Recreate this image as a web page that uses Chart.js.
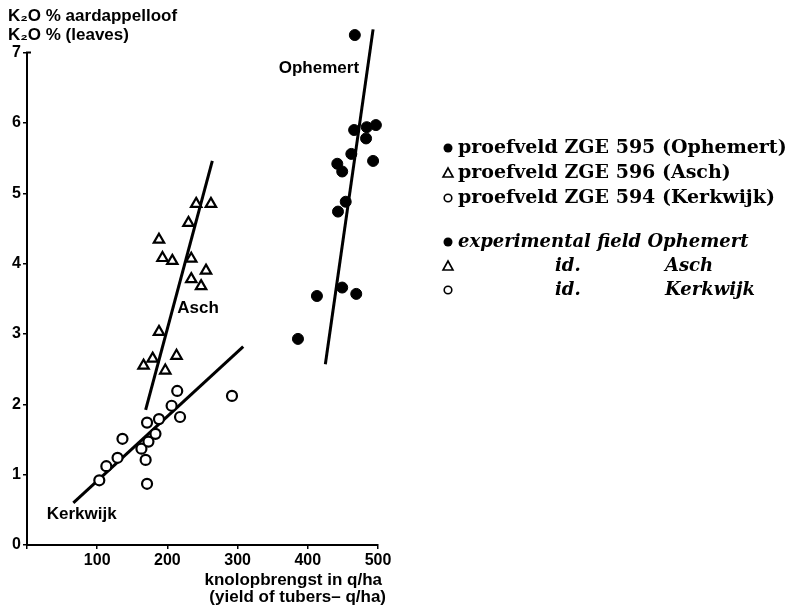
<!DOCTYPE html>
<html>
<head>
<meta charset="utf-8">
<script src="https://cdn.jsdelivr.net/npm/chart.js@4.4.0/dist/chart.umd.min.js"></script>
<style>
  body { margin: 0; background: #fff; }
  #wrap { position: relative; width: 794px; height: 608px; }
</style>
</head>
<body>
<div id="wrap"><canvas id="chart" width="794" height="608"></canvas></div>
<script>
// yield of tubers (q/ha) vs K2O % in leaves, per experimental field
const ophemertX = [467, 466, 484, 497, 483, 462, 493, 442, 449, 454, 443, 413, 449, 469, 386];
const ophemertY = [7.25, 5.90, 5.94, 5.97, 5.78, 5.56, 5.46, 5.42, 5.31, 4.88, 4.74, 3.54, 3.66, 3.57, 2.93];
const aschX = [241, 262, 230, 188, 193, 207, 234, 255, 234, 248, 188, 179, 166, 213, 197];
const aschY = [4.85, 4.85, 4.58, 4.34, 4.08, 4.04, 4.07, 3.90, 3.78, 3.68, 3.03, 2.65, 2.55, 2.69, 2.48];
const kerkwijkX = [103, 113, 129, 136, 163, 169, 171, 171, 173, 183, 188, 206, 214, 218, 292];
const kerkwijkY = [0.92, 1.12, 1.24, 1.51, 1.37, 1.21, 0.87, 1.74, 1.47, 1.58, 1.79, 1.98, 2.19, 1.82, 2.12];

// regression lines, two end points each
const ophemertLineX = [425, 493];
const ophemertLineY = [2.57, 7.33];
const aschLineX = [169, 264];
const aschLineY = [1.92, 5.46];
const kerkwijkLineX = [66, 308];
const kerkwijkLineY = [0.60, 2.82];

const xTicks = [0, 100, 200, 300, 400, 500];
const yTicks = [0, 1, 2, 3, 4, 5, 6, 7];

const legendDutch = ['proefveld ZGE 595 (Ophemert)', 'proefveld ZGE 596 (Asch)', 'proefveld ZGE 594 (Kerkwijk)'];
const legendEnglish = [['experimental field Ophemert', ''], ['id.', 'Asch'], ['id.', 'Kerkwijk']];

function pts(xs, ys) {
  return xs.map((x, i) => ({ x: x, y: ys[i] }));
}

const SANS = '"Liberation Sans", Arial, sans-serif';
const SERIF = '"DejaVu Serif", serif';

function marker(ctx, kind, x, y) {
  ctx.beginPath();
  if (kind === 'dot') {
    ctx.arc(x, y, 4.5, 0, Math.PI * 2);
    ctx.fill();
  } else if (kind === 'tri') {
    ctx.moveTo(x, y - 5);
    ctx.lineTo(x + 5, y + 4);
    ctx.lineTo(x - 5, y + 4);
    ctx.closePath();
    ctx.stroke();
  } else {
    ctx.arc(x, y, 3.8, 0, Math.PI * 2);
    ctx.stroke();
  }
}

// y axis line only up to the last tick (chart area is a bit taller for the top point)
const axisPlugin = {
  id: 'yAxisLine',
  beforeDatasetsDraw(chart) {
    const ctx = chart.ctx, xs = chart.scales.x, ys = chart.scales.y;
    ctx.save();
    ctx.strokeStyle = '#000';
    ctx.lineWidth = 2;
    ctx.beginPath();
    ctx.moveTo(xs.left, ys.getPixelForValue(yTicks[0]) + 1);
    ctx.lineTo(xs.left, ys.getPixelForValue(yTicks[yTicks.length - 1]));
    ctx.lineTo(xs.left + 4, ys.getPixelForValue(yTicks[yTicks.length - 1]));
    ctx.stroke();
    ctx.restore();
  }
};

const textPlugin = {
  id: 'texts',
  afterDraw(chart) {
    const ctx = chart.ctx, xs = chart.scales.x, ys = chart.scales.y;
    ctx.save();
    ctx.fillStyle = '#000';
    ctx.strokeStyle = '#000';
    ctx.lineWidth = 1.6;
    ctx.textBaseline = 'middle';

    // axis titles
    ctx.font = 'bold 17px ' + SANS;
    ctx.textAlign = 'left';
    ctx.fillText('K₂O % aardappelloof', 8, 16);
    ctx.fillText('K₂O % (leaves)', 8, 35);
    ctx.textAlign = 'right';
    ctx.fillText('knolopbrengst in q/ha', xs.right + 4, 580);
    ctx.fillText('(yield of tubers– q/ha)', xs.right + 8, 597);

    // field names next to the lines
    ctx.fillText('Ophemert', xs.getPixelForValue(473), ys.getPixelForValue(6.78));
    ctx.textAlign = 'left';
    ctx.fillText('Asch', xs.getPixelForValue(214), ys.getPixelForValue(3.37));
    ctx.fillText('Kerkwijk', xs.getPixelForValue(28), ys.getPixelForValue(0.43));

    // legend
    const kinds = ['dot', 'tri', 'ring'];
    const rows1 = [148, 173, 198];
    const rows2 = [242, 266, 290];
    ctx.font = 'bold 19px ' + SERIF;
    legendDutch.forEach((t, i) => {
      marker(ctx, kinds[i], 448, rows1[i]);
      ctx.fillText(t, 458, rows1[i]);
    });
    ctx.font = 'italic bold 18px ' + SERIF;
    legendEnglish.forEach((t, i) => {
      marker(ctx, kinds[i], 448, rows2[i]);
      if (i === 0) {
        ctx.fillText(t[0], 458, rows2[i]);
      } else {
        ctx.fillText(t[0], 555, rows2[i]);
        ctx.fillText(t[1], 665, rows2[i]);
      }
    });
    ctx.restore();
  }
};

const axisFont = { family: SANS, size: 16, weight: 'bold' };

new Chart(document.getElementById('chart'), {
  type: 'scatter',
  data: {
    datasets: [{
      label: 'Ophemert',
      data: pts(ophemertX, ophemertY),
      pointStyle: 'circle',
      pointRadius: 5.5,
      backgroundColor: '#000',
      borderColor: '#000',
      borderWidth: 1,
      clip: false
    }, {
      label: 'Asch',
      data: pts(aschX, aschY),
      pointStyle: 'triangle',
      pointRadius: 6,
      backgroundColor: '#fff',
      borderColor: '#000',
      borderWidth: 2.2,
      clip: false
    }, {
      label: 'Kerkwijk',
      data: pts(kerkwijkX, kerkwijkY),
      pointStyle: 'circle',
      pointRadius: 5,
      backgroundColor: '#fff',
      borderColor: '#000',
      borderWidth: 2.2,
      clip: false
    }, {
      type: 'line',
      label: 'line Ophemert',
      data: pts(ophemertLineX, ophemertLineY),
      borderColor: '#000',
      borderWidth: 3,
      pointRadius: 0,
      clip: false
    }, {
      type: 'line',
      label: 'line Asch',
      data: pts(aschLineX, aschLineY),
      borderColor: '#000',
      borderWidth: 3,
      pointRadius: 0,
      clip: false
    }, {
      type: 'line',
      label: 'line Kerkwijk',
      data: pts(kerkwijkLineX, kerkwijkLineY),
      borderColor: '#000',
      borderWidth: 3,
      pointRadius: 0,
      clip: false
    }]
  },
  options: {
    responsive: false,
    animation: false,
    layout: { padding: { left: 0, right: 416, top: 28, bottom: 0 } },
    plugins: {
      legend: { display: false },
      tooltip: { enabled: false }
    },
    scales: {
      x: {
        type: 'linear',
        min: xTicks[0],
        max: xTicks[xTicks.length - 1],
        afterBuildTicks: (s) => { s.ticks = xTicks.map((v) => ({ value: v })); },
        ticks: {
          color: '#000',
          font: axisFont,
          padding: 2,
          callback: (v) => (v === 0 ? '' : v)
        },
        grid: { drawOnChartArea: false, color: '#000', tickLength: 4, lineWidth: 1.5 },
        border: { color: '#000', width: 2 },
        afterFit: (s) => { s.height = 63; }
      },
      y: {
        type: 'linear',
        min: yTicks[0],
        max: 7.35,
        afterBuildTicks: (s) => { s.ticks = yTicks.map((v) => ({ value: v })); },
        ticks: {
          color: '#000',
          font: axisFont,
          padding: 2
        },
        grid: { drawOnChartArea: false, color: '#000', tickLength: 4, lineWidth: 1.5 },
        border: { display: false },
        afterFit: (s) => { s.width = 27; }
      }
    }
  },
  plugins: [axisPlugin, textPlugin]
});
</script>
</body>
</html>
